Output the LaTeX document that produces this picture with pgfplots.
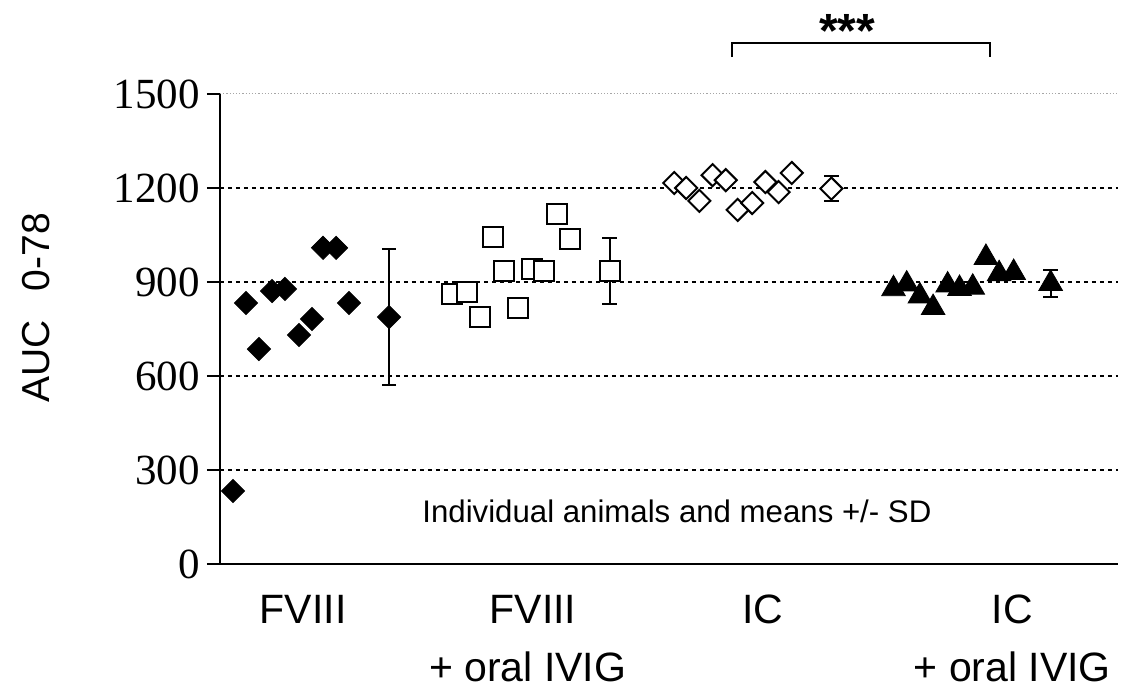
\documentclass[border=0pt]{standalone}
\usepackage{pgfplots}
\pgfplotsset{compat=1.18}
\usepackage{fontspec}
\setmainfont{Liberation Sans}
\newfontfamily\timesfont{Liberation Serif}
\usetikzlibrary{calc}

% Individual animals (x = plotting position, y = AUC 0-78)
\pgfplotstableread{
x     y
0.98  233
1.97  833
2.95  686
3.94  871
4.92  878
5.98  731
6.97  782
7.80  1009
8.79  1009
9.77  833
}\fviii
\pgfplotstableread{
x     y
17.6  862
18.7  868
19.7  788
20.7  1044
21.5  935
22.6  817
23.6  941
24.5  935
25.5  1117
26.5  1037
}\fviiiivig
\pgfplotstableread{
x     y
34.4  1216
35.3  1200
36.3  1159
37.3  1241
38.3  1225
39.2  1130
40.3  1152
41.3  1219
42.3  1187
43.3  1248
}\ic
\pgfplotstableread{
x     y
51.0  878
52.0  893
53.0  855
54.0  818
55.1  890
56.0  879
57.0  883
58.0  978
59.0  926
60.1  930
}\icivig

\begin{document}
\begin{tikzpicture}
\begin{axis}[
  name=ax,
  scale only axis,
  width=449pt, height=235pt,
  xmin=0, xmax=68, ymin=0, ymax=1500,
  axis x line*=bottom, axis y line*=left,
  axis line style={line width=1pt, -},
  xtick=\empty,
  ytick={0,300,600,900,1200},
  extra y ticks={1500},
  extra y tick style={major grid style={densely dotted, gray!70, line width=0.5pt}},
  ymajorgrids,
  major grid style={dash pattern=on 2pt off 2pt, line width=0.6pt, black},
  tick align=outside,
  major tick length=6.5pt,
  tick style={line width=1pt, black},
  yticklabel style={font=\timesfont\fontsize{21.5}{25}\selectfont},
  /pgf/number format/assume math mode=true,
  /pgf/number format/1000 sep={},
  ylabel={AUC\hspace{0.75em}0-78},
  ylabel style={font=\fontsize{19.5}{23}\selectfont, at={(axis description cs:-0.205,0.545)}, anchor=center},
  clip=false,
  error bars/error bar style={line width=1pt},
  error bars/error mark options={mark size=3.6pt, line width=1pt, rotate=90},
]

% FVIII: filled diamonds
\addplot[only marks, mark=square*, mark size=4.1pt,
  mark options={rotate=45, draw=black, fill=black}] table {\fviii};
\addplot[only marks, mark=square*, mark size=4.1pt,
  mark options={rotate=45, draw=black, fill=black},
  error bars/.cd, y dir=both, y explicit]
  coordinates {(12.8,788) +- (0,217)};

% FVIII + oral IVIG: open squares
\addplot[only marks, mark=square*, mark size=5pt,
  mark options={draw=black, fill=white, line width=1pt}] table {\fviiiivig};
\addplot[only marks, mark=square*, mark size=5pt,
  mark options={draw=black, fill=white, line width=1pt},
  error bars/.cd, y dir=both, y explicit]
  coordinates {(29.5,935) +- (0,105)};

% IC: open diamonds
\addplot[only marks, mark=square*, mark size=3.9pt,
  mark options={rotate=45, draw=black, fill=white, line width=1pt}] table {\ic};
\addplot[only marks, mark=square*, mark size=3.9pt,
  mark options={rotate=45, draw=black, fill=white, line width=1pt},
  error bars/.cd, y dir=both, y explicit]
  coordinates {(46.3,1198) +- (0,40)};

% IC + oral IVIG: filled triangles
\addplot[only marks, mark=triangle*, mark size=6.8pt,
  mark options={draw=black, fill=black}] table {\icivig};
\addplot[only marks, mark=triangle*, mark size=6.8pt,
  mark options={draw=black, fill=black},
  error bars/.cd, y dir=both, y explicit]
  coordinates {(62.9,895) +- (0,43)};

% group labels
\begin{scope}[every node/.style={anchor=base, font=\fontsize{20.5}{24}\selectfont}]
  \node at (axis cs:6.3,-191.5) {FVIII};
  \node at (axis cs:23.7,-191.5) {FVIII};
  \node at (axis cs:23.3,-376.6) {+ oral IVIG};
  \node at (axis cs:41.1,-191.5) {IC};
  \node at (axis cs:60.0,-191.5) {IC};
  \node at (axis cs:60.0,-376.6) {+ oral IVIG};
\end{scope}

\node[anchor=base, font=\fontsize{15.6}{18}\selectfont] at (axis cs:34.6,131)
  {Individual animals and means +/- SD};

% significance bracket IC vs IC + oral IVIG
\draw[line width=1pt] (axis cs:38.8,1618) |- (axis cs:58.3,1663) -- (axis cs:58.3,1618);
\node[anchor=base, font=\bfseries\fontsize{24}{28}\selectfont] at (axis cs:47.5,1647) {***};
\end{axis}
\pgfresetboundingbox
\path ($(ax.south west)+(-110pt,-65.5pt)$) rectangle ($(ax.north east)+(1.5pt,47pt)$);
\end{tikzpicture}
\end{document}
